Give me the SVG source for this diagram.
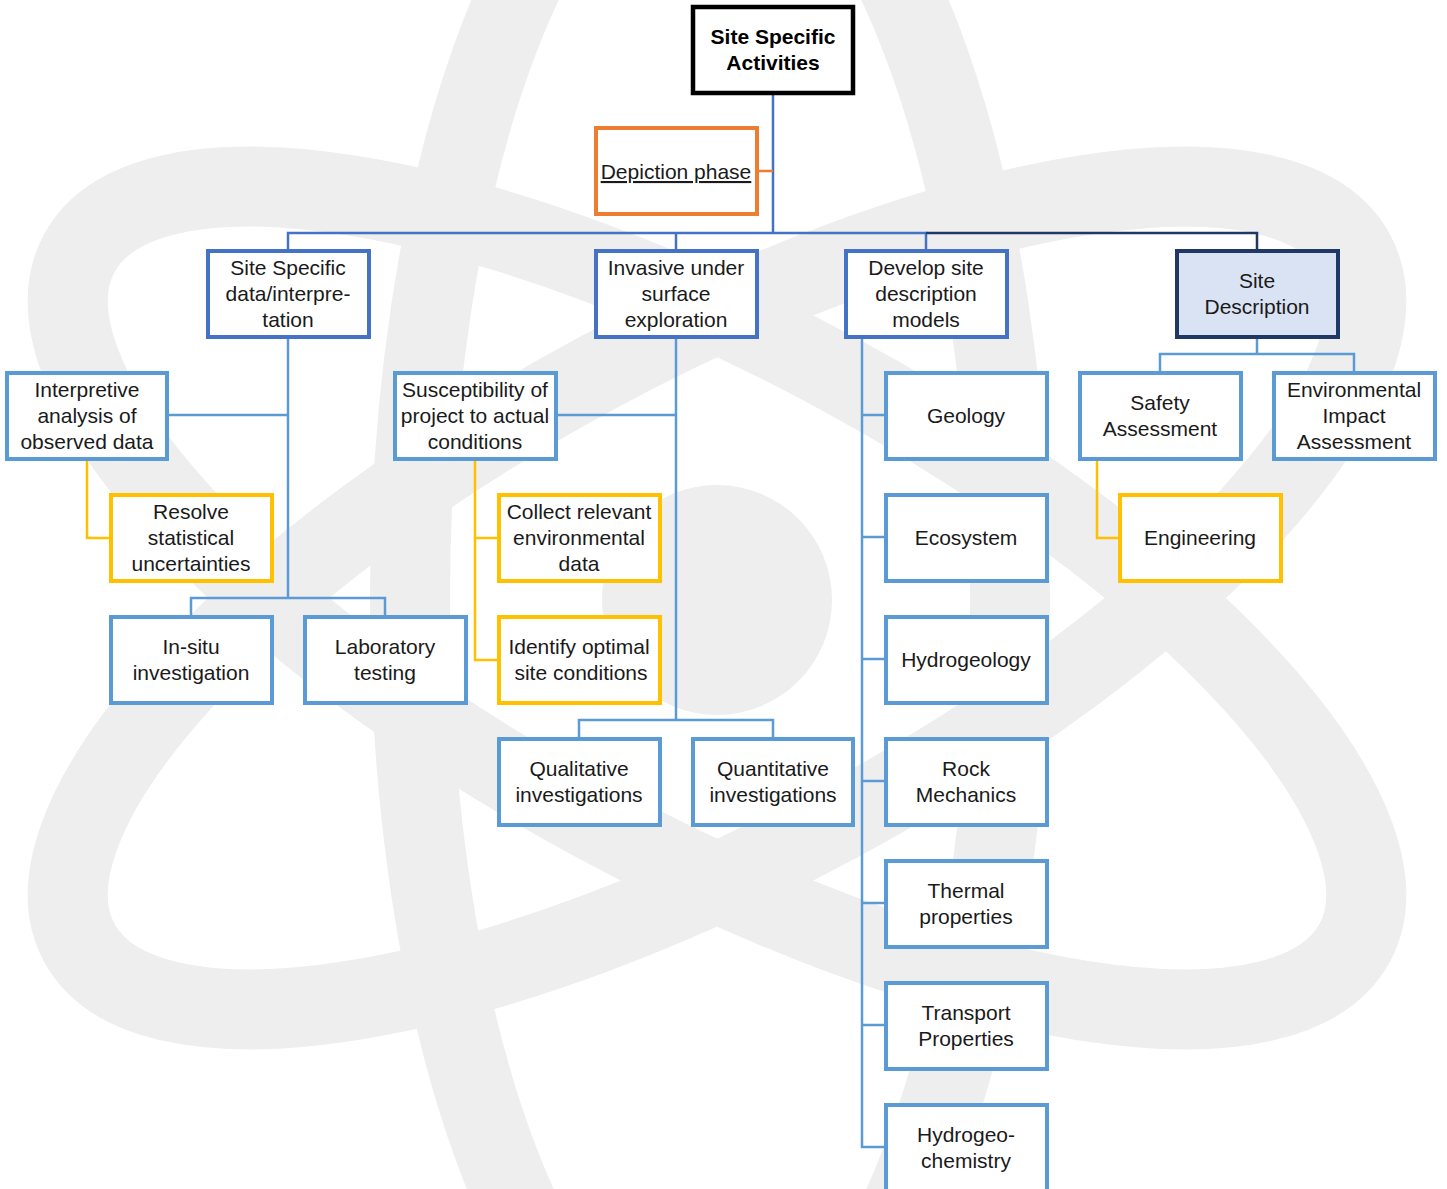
<svg xmlns="http://www.w3.org/2000/svg" width="1447" height="1189" viewBox="0 0 1447 1189">
  <style>
    text { font-family: "Liberation Sans", Arial, sans-serif; font-size: 21px; fill: #1a1a1a; text-anchor: middle; }
    .title { font-weight: bold; fill: #000; }
    .box { fill: #ffffff; stroke-width: 4; }
    .lvl1 { stroke: #4472c4; }
    .lvl2 { stroke: #5b9bd5; }
    .gold { stroke: #ffc000; }
    .root { stroke: #000000; stroke-width: 4.5; }
    .orange { stroke: #ed7d31; }
    .navy { fill: #dae3f3; stroke: #1f3864; }
    .wire { fill: none; stroke-width: 2.5; }
    .w-main { stroke: #4472c4; }
    .w-sub { stroke: #5b9bd5; }
    .w-gold { stroke: #ffc000; }
    .w-navy { stroke: #1f3864; }
    .w-orange { stroke: #ed7d31; }
    .orbit { fill: none; stroke: #eeeeee; stroke-width: 80; }
  </style>

  <rect width="1447" height="1189" fill="#ffffff"/>

  <!-- atom watermark behind the chart -->
  <g id="atom">
    <ellipse class="orbit" cx="710" cy="600" rx="300" ry="790"/>
    <ellipse class="orbit" cx="717" cy="598" rx="725" ry="255" transform="rotate(28.4 717 598)"/>
    <ellipse class="orbit" cx="717" cy="598" rx="725" ry="255" transform="rotate(-28.4 717 598)"/>
    <circle cx="717" cy="600" r="115" fill="#eeeeee"/>
  </g>

  <!-- connectors -->
  <g id="connectors">
    <path class="wire w-main" d="M773 93 V233"/>
    <path class="wire w-orange" d="M757 171 H773"/>
    <path class="wire w-main" d="M288 250 V233 H926 V250"/>
    <path class="wire w-main" d="M676 233 V250"/>
    <path class="wire w-navy" d="M926 233 H1257 V250"/>

    <!-- site specific data branch -->
    <path class="wire w-sub" d="M288 337 V598"/>
    <path class="wire w-sub" d="M167 415 H288"/>
    <path class="wire w-sub" d="M191 616 V598 H385 V616"/>
    <path class="wire w-gold" d="M87 459 V538 H111"/>

    <!-- invasive exploration branch -->
    <path class="wire w-sub" d="M676 337 V720"/>
    <path class="wire w-sub" d="M556 415 H676"/>
    <path class="wire w-sub" d="M579 738 V720 H773 V738"/>
    <path class="wire w-gold" d="M475 459 V660 H498"/>
    <path class="wire w-gold" d="M475 538 H498"/>

    <!-- site description models branch -->
    <path class="wire w-sub" d="M862 337 V1147 H886"/>
    <path class="wire w-sub" d="M862 415 H886 M862 537 H886 M862 659 H886 M862 781 H886 M862 903 H886 M862 1025 H886"/>

    <!-- site description branch -->
    <path class="wire w-sub" d="M1257 337 V354"/>
    <path class="wire w-sub" d="M1160 372 V354 H1354 V372"/>
    <path class="wire w-gold" d="M1097 459 V538 H1120"/>
  </g>

  <g id="n-root">
    <rect class="box root" x="693" y="7" width="160" height="86"/>
    <text class="title" x="773" y="44">Site Specific</text>
    <text class="title" x="773" y="70">Activities</text>
  </g>

  <g id="n-depiction">
    <rect class="box orange" x="596" y="128" width="161" height="86"/>
    <text x="676" y="179" text-decoration="underline">Depiction phase</text>
  </g>

  <g id="n-site-data">
    <rect class="box lvl1" x="208" y="251" width="161" height="86"/>
    <text x="288" y="275">Site Specific</text>
    <text x="288" y="301">data/interpre-</text>
    <text x="288" y="327">tation</text>
  </g>

  <g id="n-invasive">
    <rect class="box lvl1" x="596" y="251" width="161" height="86"/>
    <text x="676" y="275">Invasive under</text>
    <text x="676" y="301">surface</text>
    <text x="676" y="327">exploration</text>
  </g>

  <g id="n-develop">
    <rect class="box lvl1" x="846" y="251" width="161" height="86"/>
    <text x="926" y="275">Develop site</text>
    <text x="926" y="301">description</text>
    <text x="926" y="327">models</text>
  </g>

  <g id="n-site-desc">
    <rect class="box navy" x="1177" y="251" width="161" height="86"/>
    <text x="1257" y="288">Site</text>
    <text x="1257" y="314">Description</text>
  </g>

  <g id="n-interpretive">
    <rect class="box lvl2" x="7" y="373" width="160" height="86"/>
    <text x="87" y="397">Interpretive</text>
    <text x="87" y="423">analysis of</text>
    <text x="87" y="449">observed data</text>
  </g>

  <g id="n-resolve">
    <rect class="box gold" x="111" y="495" width="161" height="86"/>
    <text x="191" y="519">Resolve</text>
    <text x="191" y="545">statistical</text>
    <text x="191" y="571">uncertainties</text>
  </g>

  <g id="n-insitu">
    <rect class="box lvl2" x="111" y="617" width="161" height="86"/>
    <text x="191" y="654">In-situ</text>
    <text x="191" y="680">investigation</text>
  </g>

  <g id="n-lab">
    <rect class="box lvl2" x="305" y="617" width="161" height="86"/>
    <text x="385" y="654">Laboratory</text>
    <text x="385" y="680">testing</text>
  </g>

  <g id="n-susceptibility">
    <rect class="box lvl2" x="395" y="373" width="161" height="86"/>
    <text x="475" y="397">Susceptibility of</text>
    <text x="475" y="423">project to actual</text>
    <text x="475" y="449">conditions</text>
  </g>

  <g id="n-collect">
    <rect class="box gold" x="499" y="495" width="161" height="86"/>
    <text x="579" y="519">Collect relevant</text>
    <text x="579" y="545">environmental</text>
    <text x="579" y="571">data</text>
  </g>

  <g id="n-identify">
    <rect class="box gold" x="499" y="617" width="161" height="86"/>
    <text x="579" y="654">Identify optimal</text>
    <text x="581" y="680">site conditions</text>
  </g>

  <g id="n-qualitative">
    <rect class="box lvl2" x="499" y="739" width="161" height="86"/>
    <text x="579" y="776">Qualitative</text>
    <text x="579" y="802">investigations</text>
  </g>

  <g id="n-quantitative">
    <rect class="box lvl2" x="693" y="739" width="160" height="86"/>
    <text x="773" y="776">Quantitative</text>
    <text x="773" y="802">investigations</text>
  </g>

  <g id="n-geology">
    <rect class="box lvl2" x="886" y="373" width="161" height="86"/>
    <text x="966" y="423">Geology</text>
  </g>

  <g id="n-ecosystem">
    <rect class="box lvl2" x="886" y="495" width="161" height="86"/>
    <text x="966" y="545">Ecosystem</text>
  </g>

  <g id="n-hydrogeology">
    <rect class="box lvl2" x="886" y="617" width="161" height="86"/>
    <text x="966" y="667">Hydrogeology</text>
  </g>

  <g id="n-rock">
    <rect class="box lvl2" x="886" y="739" width="161" height="86"/>
    <text x="966" y="776">Rock</text>
    <text x="966" y="802">Mechanics</text>
  </g>

  <g id="n-thermal">
    <rect class="box lvl2" x="886" y="861" width="161" height="86"/>
    <text x="966" y="898">Thermal</text>
    <text x="966" y="924">properties</text>
  </g>

  <g id="n-transport">
    <rect class="box lvl2" x="886" y="983" width="161" height="86"/>
    <text x="966" y="1020">Transport</text>
    <text x="966" y="1046">Properties</text>
  </g>

  <g id="n-hydrochem">
    <rect class="box lvl2" x="886" y="1105" width="161" height="86"/>
    <text x="966" y="1142">Hydrogeo-</text>
    <text x="966" y="1168">chemistry</text>
  </g>

  <g id="n-safety">
    <rect class="box lvl2" x="1080" y="373" width="161" height="86"/>
    <text x="1160" y="410">Safety</text>
    <text x="1160" y="436">Assessment</text>
  </g>

  <g id="n-eia">
    <rect class="box lvl2" x="1274" y="373" width="161" height="86"/>
    <text x="1354" y="397">Environmental</text>
    <text x="1354" y="423">Impact</text>
    <text x="1354" y="449">Assessment</text>
  </g>

  <g id="n-engineering">
    <rect class="box gold" x="1120" y="495" width="161" height="86"/>
    <text x="1200" y="545">Engineering</text>
  </g>
</svg>
